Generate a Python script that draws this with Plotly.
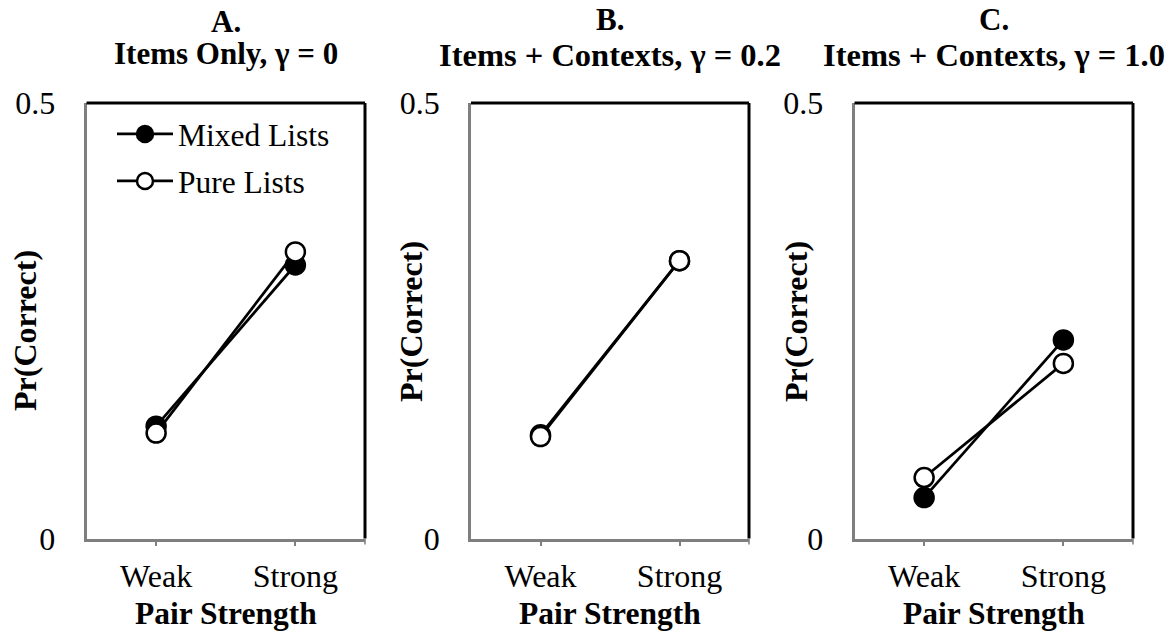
import plotly.graph_objects as go

# ---------------- data ----------------
categories = ["Weak", "Strong"]
panel_letters = ["A.", "B.", "C."]
panel_titles = ["Items Only, γ = 0", "Items + Contexts, γ = 0.2", "Items + Contexts, γ = 1.0"]
series_names = ["Mixed Lists", "Pure Lists"]
mixed_A = [0.129, 0.314]
pure_A = [0.121, 0.329]
mixed_B = [0.119, 0.319]
pure_B = [0.117, 0.319]
mixed_C = [0.047, 0.228]
pure_C = [0.070, 0.201]
y_tick_vals = [0, 0.5]
y_tick_text = ["0", "0.5"]
x_title = "Pair Strength"
y_title = "Pr(Correct)"

# ---------------- layout geometry (pixels) ----------------
W, H = 1167, 636
lefts = [86.5, 471, 854.5]
rights = [365, 749, 1133]
top_px, bot_px = 103, 538.5
FONT = "Times New Roman, Liberation Serif, serif"
GRAY = "#7f7f7f"
title_sizes = [31, 32.5, 32.5]
letter_y = [22, 20, 20]
title_y = [53, 55, 55]

def px_x(x):
    return x / W

def px_y(y):
    return 1 - y / H

fig = go.Figure()
panels = [(mixed_A, pure_A), (mixed_B, pure_B), (mixed_C, pure_C)]

for i, (mixed, pure) in enumerate(panels):
    sfx = "" if i == 0 else str(i + 1)
    xa, ya = "x" + sfx, "y" + sfx
    fig.add_trace(go.Scatter(
        x=categories, y=mixed, mode="lines+markers", name=series_names[0],
        xaxis=xa, yaxis=ya, showlegend=(i == 0), legendgroup="g1",
        line=dict(color="black", width=2.75),
        marker=dict(symbol="circle", size=19, color="black",
                    line=dict(color="black", width=2.5)),
        hoverinfo="skip"))
    fig.add_trace(go.Scatter(
        x=categories, y=pure, mode="lines+markers", name=series_names[1],
        xaxis=xa, yaxis=ya, showlegend=(i == 0), legendgroup="g2",
        line=dict(color="black", width=2.75),
        marker=dict(symbol="circle", size=19, color="white",
                    line=dict(color="black", width=2.5)),
        hoverinfo="skip"))

layout = dict(
    template="none",
    width=W, height=H, margin=dict(l=0, r=0, t=0, b=0, autoexpand=False),
    autosize=False,
    paper_bgcolor="white", plot_bgcolor="white",
    font=dict(family=FONT, color="black", size=31),
    showlegend=True,
    legend=dict(x=px_x(112), y=px_y(107), xanchor="left", yanchor="top",
                bgcolor="rgba(0,0,0,0)", borderwidth=0,
                font=dict(family=FONT, size=31.5, color="black"),
                traceorder="grouped", tracegroupgap=3, itemwidth=56),
)
ydom = [px_y(bot_px), px_y(top_px)]
for i in range(3):
    sfx = "" if i == 0 else str(i + 1)
    layout["xaxis" + sfx] = dict(
        domain=[px_x(lefts[i]), px_x(rights[i])], anchor="y" + sfx,
        type="category", categoryorder="array", categoryarray=categories,
        range=[-0.5, 1.5], showgrid=False, zeroline=False, automargin=False,
        showline=True, linecolor=GRAY, linewidth=2.5,
        ticks="outside", ticklen=5, tickcolor=GRAY, tickwidth=1.5,
        tickfont=dict(family=FONT, size=32, color="black"),
        ticklabelstandoff=2, fixedrange=True)
    layout["yaxis" + sfx] = dict(
        domain=ydom, anchor="x" + sfx, range=[0, 0.5], automargin=False,
        tickmode="array", tickvals=y_tick_vals, ticktext=y_tick_text,
        showgrid=False, zeroline=False,
        showline=True, linecolor=GRAY, linewidth=2.5, ticks="",
        tickfont=dict(family=FONT, size=32, color="black"),
        ticklabelstandoff=22, fixedrange=True)
fig.update_layout(**layout)

# top / right black borders and right-edge tick
shapes = []
plot_h = bot_px - top_px
for i in range(3):
    sfx = "" if i == 0 else str(i + 1)
    xr, yr = "x" + sfx + " domain", "y" + sfx + " domain"
    shapes.append(dict(type="line", xref=xr, yref=yr, x0=0, x1=1, y0=1, y1=1,
                       line=dict(color="black", width=3)))
    shapes.append(dict(type="line", xref=xr, yref=yr, x0=1, x1=1, y0=0, y1=1,
                       line=dict(color="black", width=3)))
    shapes.append(dict(type="line", xref=xr, yref=yr, x0=1, x1=1, y0=0, y1=-6 / plot_h,
                       line=dict(color=GRAY, width=1.5)))
fig.update_layout(shapes=shapes)

# titles and axis titles
ytitle_y = [331, 322, 322]
ytitle_x = [25, 411, 796]
annotations = []
for i in range(3):
    cx = px_x((lefts[i] + rights[i]) / 2)
    annotations.append(dict(text="<b>%s</b>" % panel_letters[i], x=cx, y=px_y(letter_y[i]),
                            xref="paper", yref="paper", showarrow=False,
                            xanchor="center", yanchor="middle",
                            font=dict(family=FONT, size=31, color="black")))
    annotations.append(dict(text="<b>%s</b>" % panel_titles[i], x=cx, y=px_y(title_y[i]),
                            xref="paper", yref="paper", showarrow=False,
                            xanchor="center", yanchor="middle",
                            font=dict(family=FONT, size=title_sizes[i], color="black")))
    annotations.append(dict(text="<b>%s</b>" % x_title, x=cx, y=px_y(613),
                            xref="paper", yref="paper", showarrow=False,
                            xanchor="center", yanchor="middle",
                            font=dict(family=FONT, size=31.5, color="black")))
    annotations.append(dict(text="<b>%s</b>" % y_title, x=px_x(ytitle_x[i]), y=px_y(ytitle_y[i]),
                            xref="paper", yref="paper", showarrow=False, textangle=-90,
                            xanchor="center", yanchor="middle",
                            font=dict(family=FONT, size=32, color="black")))
fig.update_layout(annotations=annotations)

fig.write_html("out.html", config={"displayModeBar": False})
